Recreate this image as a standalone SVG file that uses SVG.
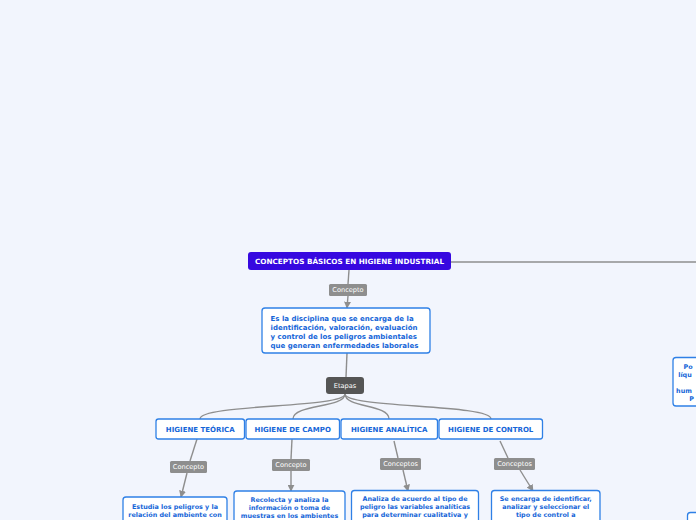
<svg xmlns="http://www.w3.org/2000/svg" width="696" height="520" viewBox="0 0 696 520">
<defs>
<style>
.bg{fill:#f2f5fd}
.edge{fill:none;stroke:#8e8e8e;stroke-width:1.4}
.lbl{fill:#8e8e8e}
.lbltxt{font-family:"DejaVu Sans",Verdana,sans-serif;font-size:6.6px;fill:#ffffff;text-anchor:middle}
.box{fill:#ffffff;stroke:#2f80e6;stroke-width:1.3}
.btxt{font-family:"DejaVu Sans",Verdana,sans-serif;font-size:7px;font-weight:bold;fill:#1565d8}
.stage{font-family:"DejaVu Sans",Verdana,sans-serif;font-size:7px;font-weight:bold;fill:#1565d8;text-anchor:middle}
.dtxt{font-family:"DejaVu Sans",Verdana,sans-serif;font-size:6.4px;font-weight:bold;fill:#1565d8;text-anchor:middle}
</style>
<marker id="arr" viewBox="0 0 10 10" refX="9" refY="5" markerWidth="5" markerHeight="5" orient="auto" markerUnits="strokeWidth">
<path d="M0,0 L10,5 L0,10 z" fill="#8e8e8e"/>
</marker>
</defs>
<rect class="bg" x="0" y="0" width="696" height="520"/>
<g id="connectors">
<path class="edge" d="M451,262 L696,262"/>
<path class="edge" d="M349,270 L348,284"/>
<path class="edge" d="M348,296 L347,308" marker-end="url(#arr)"/>
<path class="edge" d="M347,353 L346,377"/>
<path class="edge" d="M345,394 C345,408 200,404 200,419"/>
<path class="edge" d="M345,394 C345,408 293,404 293,419"/>
<path class="edge" d="M345,394 C345,408 389,404 389,419"/>
<path class="edge" d="M345,394 C345,408 491,404 491,419"/>
<path class="edge" d="M197,439 L190,461"/>
<path class="edge" d="M187,473 L181,497" marker-end="url(#arr)"/>
<path class="edge" d="M292,439 L291,459"/>
<path class="edge" d="M291,471 L291,491" marker-end="url(#arr)"/>
<path class="edge" d="M394,441 L398,458"/>
<path class="edge" d="M403,470 L408,491" marker-end="url(#arr)"/>
<path class="edge" d="M500,441 L508,458"/>
<path class="edge" d="M520,470 L533,491" marker-end="url(#arr)"/>
</g>
<g id="root">
<rect x="248" y="252" width="203" height="18" rx="3" fill="#3608e0"/>
<text x="349.5" y="263.5" font-family="DejaVu Sans,Verdana,sans-serif" font-size="7.2" font-weight="bold" fill="#ffffff" text-anchor="middle" textLength="189" lengthAdjust="spacingAndGlyphs">CONCEPTOS BÁSICOS EN HIGIENE INDUSTRIAL</text>
</g>
<g id="label-concepto-root">
<rect class="lbl" x="329" y="284" width="38" height="12" rx="1.5"/>
<text class="lbltxt" x="348" y="292.3">Concepto</text>
</g>
<g id="definition">
<rect class="box" x="262" y="308" width="168" height="45" rx="3"/>
<text class="btxt" x="270.5" y="320.5">Es la disciplina que se encarga de la</text>
<text class="btxt" x="270.5" y="329.5">identificación, valoración, evaluación</text>
<text class="btxt" x="270.5" y="338.5">y control de los peligros ambientales</text>
<text class="btxt" x="270.5" y="347.5">que generan enfermedades laborales</text>
</g>
<g id="etapas">
<rect x="326" y="377" width="38" height="17" rx="3" fill="#555555"/>
<text class="lbltxt" x="345" y="388" font-size="7.2">Etapas</text>
</g>
<g id="teorica">
<rect class="box" x="156" y="419" width="88.5" height="20" rx="2.5"/>
<text class="stage" x="200.2" y="431.5">HIGIENE TEÓRICA</text>
</g>
<g id="campo">
<rect class="box" x="246" y="419" width="93.5" height="20" rx="2.5"/>
<text class="stage" x="292.7" y="431.5">HIGIENE DE CAMPO</text>
</g>
<g id="analitica">
<rect class="box" x="341" y="419" width="96.5" height="20" rx="2.5"/>
<text class="stage" x="389.2" y="431.5">HIGIENE ANALÍTICA</text>
</g>
<g id="control">
<rect class="box" x="439" y="419" width="103.5" height="20" rx="2.5"/>
<text class="stage" x="490.7" y="431.5">HIGIENE DE CONTROL</text>
</g>
<g id="label-teorica">
<rect class="lbl" x="170" y="461" width="37" height="12" rx="1.5"/>
<text class="lbltxt" x="188.5" y="469.3">Concepto</text>
</g>
<g id="label-campo">
<rect class="lbl" x="272" y="459" width="38" height="12" rx="1.5"/>
<text class="lbltxt" x="291" y="467.3">Concepto</text>
</g>
<g id="label-analitica">
<rect class="lbl" x="380" y="458" width="41" height="12" rx="1.5"/>
<text class="lbltxt" x="400.5" y="466.3">Conceptos</text>
</g>
<g id="label-control">
<rect class="lbl" x="494" y="458" width="41" height="12" rx="1.5"/>
<text class="lbltxt" x="514.5" y="466.3">Conceptos</text>
</g>
<g id="desc-teorica">
<rect class="box" x="123" y="497" width="104" height="40" rx="3"/>
<text class="dtxt" x="175" y="509">Estudia los peligros y la</text>
<text class="dtxt" x="175" y="517">relación del ambiente con</text>
</g>
<g id="desc-campo">
<rect class="box" x="234" y="491" width="111" height="40" rx="3"/>
<text class="dtxt" x="289.5" y="502">Recolecta y analiza la</text>
<text class="dtxt" x="289.5" y="510">información o toma de</text>
<text class="dtxt" x="289.5" y="518">muestras en los ambientes</text>
</g>
<g id="desc-analitica">
<rect class="box" x="351.5" y="490.5" width="127" height="40" rx="3"/>
<text class="dtxt" x="415" y="501">Analiza de acuerdo al tipo de</text>
<text class="dtxt" x="415" y="509">peligro las variables analíticas</text>
<text class="dtxt" x="415" y="517">para determinar cualitativa y</text>
</g>
<g id="desc-control">
<rect class="box" x="491.5" y="490.5" width="108.5" height="40" rx="3"/>
<text class="dtxt" x="545.7" y="501">Se encarga de identificar,</text>
<text class="dtxt" x="545.7" y="509">analizar y seleccionar el</text>
<text class="dtxt" x="545.7" y="517">tipo de control a</text>
</g>
<g id="right-node">
<rect class="box" x="673" y="357.5" width="60" height="48.5" rx="3"/>
<text class="dtxt" x="688" y="369" text-anchor="start">Po</text>
<text class="dtxt" x="685" y="377" text-anchor="start">líqu</text>
<text class="dtxt" x="684" y="393" text-anchor="start">hum</text>
<text class="dtxt" x="691.5" y="401" text-anchor="start">P</text>
</g>
<g id="right-bottom-node">
<rect class="box" x="687.5" y="512.5" width="40" height="30" rx="3"/>
</g>
</svg>
